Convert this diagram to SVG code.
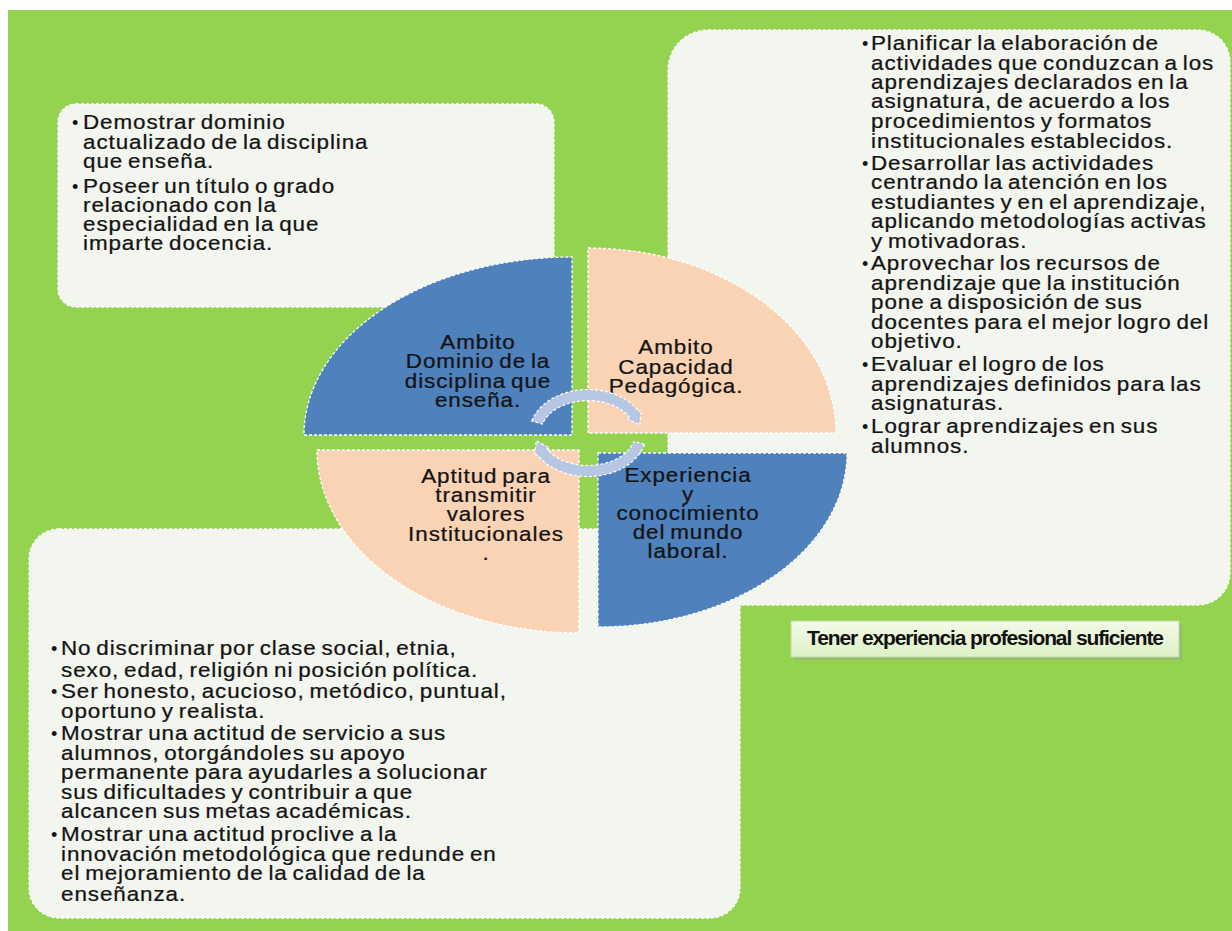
<svg xmlns="http://www.w3.org/2000/svg" width="1232" height="931" viewBox="0 0 1232 931">
<style>
.t{font-family:"Liberation Sans",Arial,sans-serif;font-size:19.5px;letter-spacing:0.8px;word-spacing:-2px;fill:#141414;stroke:#141414;stroke-width:0.25}
.b{font-family:"Liberation Sans",Arial,sans-serif;font-size:18px;fill:#141414}
.box{fill:#F3F6EE;stroke:#ffffff;stroke-width:1.3;stroke-dasharray:3 2}
.blue{fill:#4F81BD;stroke:#ffffff;stroke-width:1.3;stroke-dasharray:3 2}
.peach{fill:#FAD3B5;stroke:#ffffff;stroke-width:1.3;stroke-dasharray:3 2}
.arr{fill:#B7C6E3;stroke:#ffffff;stroke-width:1.2;stroke-dasharray:3 2}
.lab{font-family:"Liberation Sans",Arial,sans-serif;font-size:21px;font-weight:bold;letter-spacing:-1.1px;fill:#111}
</style>
<defs>
<linearGradient id="lg" x1="0" y1="0" x2="0" y2="1">
<stop offset="0" stop-color="#F3FAE8"/>
<stop offset="1" stop-color="#DDF0C6"/>
</linearGradient>
</defs>
<rect x="0" y="0" width="1232" height="931" fill="#ffffff"/>
<rect x="8" y="10" width="1224" height="921" fill="#93D350"/>

<g id="box-top-left">
<rect class="box" x="58" y="104" width="496" height="203" rx="18"/>
<text class="b" x="72" y="129">•</text>
<text class="b" x="72" y="193">•</text>
<g transform="translate(83,0) scale(1.15,1)">
<text class="t" x="0" y="129">Demostrar dominio</text>
<text class="t" x="0" y="149">actualizado de la disciplina</text>
<text class="t" x="0" y="168">que enseña.</text>
<text class="t" x="0" y="193">Poseer un título o grado</text>
<text class="t" x="0" y="212">relacionado con la</text>
<text class="t" x="0" y="231">especialidad en la que</text>
<text class="t" x="0" y="250">imparte docencia.</text>
</g>
</g>

<g id="box-top-right">
<path class="box" d="M708 30 H1198 A32 32 0 0 1 1230 62 V573 A32 32 0 0 1 1198 605 H700 A32 32 0 0 1 668 573 V70 A40 40 0 0 1 708 30 Z"/>
<text class="b" x="862" y="50">•</text>
<text class="b" x="862" y="170">•</text>
<text class="b" x="862" y="270">•</text>
<text class="b" x="862" y="371">•</text>
<text class="b" x="862" y="433">•</text>
<g transform="translate(871,0) scale(1.15,1)">
<text class="t" x="0" y="50">Planificar la elaboración de</text>
<text class="t" x="0" y="70">actividades que conduzcan a los</text>
<text class="t" x="0" y="89">aprendizajes declarados en la</text>
<text class="t" x="0" y="108">asignatura, de acuerdo a los</text>
<text class="t" x="0" y="128">procedimientos y formatos</text>
<text class="t" x="0" y="148">institucionales establecidos.</text>
<text class="t" x="0" y="170">Desarrollar las actividades</text>
<text class="t" x="0" y="189">centrando la atención en los</text>
<text class="t" x="0" y="209">estudiantes y en el aprendizaje,</text>
<text class="t" x="0" y="228">aplicando metodologías activas</text>
<text class="t" x="0" y="248">y motivadoras.</text>
<text class="t" x="0" y="270">Aprovechar los recursos de</text>
<text class="t" x="0" y="290">aprendizaje que la institución</text>
<text class="t" x="0" y="309">pone a disposición de sus</text>
<text class="t" x="0" y="329">docentes para el mejor logro del</text>
<text class="t" x="0" y="348">objetivo.</text>
<text class="t" x="0" y="371">Evaluar el logro de los</text>
<text class="t" x="0" y="391">aprendizajes definidos para las</text>
<text class="t" x="0" y="410">asignaturas.</text>
<text class="t" x="0" y="433">Lograr aprendizajes en sus</text>
<text class="t" x="0" y="453">alumnos.</text>
</g>
</g>

<g id="box-bottom-left">
<rect class="box" x="29" y="529" width="711" height="389" rx="30"/>
<text class="b" x="51" y="655">•</text>
<text class="b" x="51" y="698">•</text>
<text class="b" x="51" y="740">•</text>
<text class="b" x="51" y="841">•</text>
<g transform="translate(61,0) scale(1.15,1)">
<text class="t" x="0" y="655">No discriminar por clase social, etnia,</text>
<text class="t" x="0" y="677">sexo, edad, religión ni posición política.</text>
<text class="t" x="0" y="698">Ser honesto, acucioso, metódico, puntual,</text>
<text class="t" x="0" y="718">oportuno y realista.</text>
<text class="t" x="0" y="740">Mostrar una actitud de servicio a sus</text>
<text class="t" x="0" y="760">alumnos, otorgándoles su apoyo</text>
<text class="t" x="0" y="779">permanente para ayudarles a solucionar</text>
<text class="t" x="0" y="799">sus dificultades y contribuir a que</text>
<text class="t" x="0" y="818">alcancen sus metas académicas.</text>
<text class="t" x="0" y="841">Mostrar una actitud proclive a la</text>
<text class="t" x="0" y="861">innovación metodológica que redunde en</text>
<text class="t" x="0" y="880">el mejoramiento de la calidad de la</text>
<text class="t" x="0" y="901">enseñanza.</text>
</g>
</g>

<g id="quadrant-dominio">
<path class="blue" d="M572 435 L304 435 A268 178 0 0 1 572 257 Z"/>
<g transform="translate(478,0) scale(1.15,1)">
<text class="t" x="0" y="349" text-anchor="middle">Ambito</text>
<text class="t" x="0" y="368" text-anchor="middle">Dominio de la</text>
<text class="t" x="0" y="388" text-anchor="middle">disciplina que</text>
<text class="t" x="0" y="407" text-anchor="middle">enseña.</text>
</g>
</g>

<g id="quadrant-pedagogica">
<path class="peach" d="M588 433 L588 248 A248 185 0 0 1 836 433 Z"/>
<g transform="translate(676,0) scale(1.15,1)">
<text class="t" x="0" y="354" text-anchor="middle">Ambito</text>
<text class="t" x="0" y="374" text-anchor="middle">Capacidad</text>
<text class="t" x="0" y="393" text-anchor="middle">Pedagógica.</text>
</g>
</g>

<g id="quadrant-valores">
<path class="peach" d="M579 450 L579 633 A262 183 0 0 1 317 450 Z"/>
<g transform="translate(486,0) scale(1.15,1)">
<text class="t" x="0" y="483" text-anchor="middle">Aptitud para</text>
<text class="t" x="0" y="502" text-anchor="middle">transmitir</text>
<text class="t" x="0" y="521" text-anchor="middle">valores</text>
<text class="t" x="0" y="541" text-anchor="middle">Institucionales</text>
<text class="t" x="0" y="560" text-anchor="middle">.</text>
</g>
</g>

<g id="quadrant-experiencia">
<path class="blue" d="M598 453 L847 453 A249 174 0 0 1 598 627 Z"/>
<g transform="translate(688,0) scale(1.15,1)">
<text class="t" x="0" y="482" text-anchor="middle">Experiencia</text>
<text class="t" x="0" y="501" text-anchor="middle">y</text>
<text class="t" x="0" y="520" text-anchor="middle">conocimiento</text>
<text class="t" x="0" y="539" text-anchor="middle">del mundo</text>
<text class="t" x="0" y="558" text-anchor="middle">laboral.</text>
</g>
</g>

<g id="connectors">
<path class="arr" d="M531.8 421 A58.5 43.5 0 0 1 638.7 411.25 L641.3 409.75 L639.8 425.1 L626.5 418.25 L629.1 416.75 A47.5 32.5 0 0 0 542.4 424 Z"/>
<path class="arr" d="M644.5 444.3 A58.5 43.5 0 0 1 537.3 454.75 L534.7 456.25 L536.2 440.9 L549.5 447.75 L546.9 449.25 A47.5 32.5 0 0 0 633.9 441.4 Z"/>
</g>

<g id="label-experiencia">
<rect x="794" y="624" width="388" height="36" fill="#9aa58a" opacity="0.55"/>
<rect x="791" y="621" width="388" height="36" fill="url(#lg)" stroke="#C3DC9E" stroke-width="1"/>
<text class="lab" x="985" y="645" text-anchor="middle">Tener experiencia profesional suficiente</text>
</g>
</svg>
